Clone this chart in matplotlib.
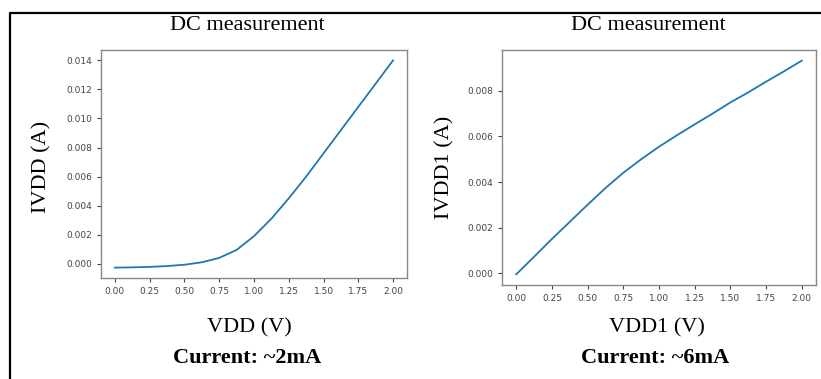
import numpy as np
import matplotlib.pyplot as plt
from matplotlib.lines import Line2D

# DC sweep, VDD (V) vs IVDD (A)
vdd = [0.0, 0.125, 0.25, 0.375, 0.5, 0.625, 0.75, 0.875, 1.0, 1.125, 1.25, 1.375, 1.5, 1.625, 1.75, 1.875, 2.0]
ivdd = [-0.00027, -0.00025, -0.00022, -0.00016, -0.00007, 0.0001, 0.0004, 0.00095, 0.0019, 0.0031, 0.0045,
        0.006, 0.0076, 0.0092, 0.0108, 0.0124, 0.014]

# DC sweep, VDD1 (V) vs IVDD1 (A)
vdd1 = [0.0, 0.125, 0.25, 0.375, 0.5, 0.625, 0.75, 0.875, 1.0, 1.125, 1.25, 1.375, 1.5, 1.625, 1.75, 1.875, 2.0]
ivdd1 = [-0.00004, 0.00073, 0.00151, 0.00226, 0.00301, 0.00374, 0.00441, 0.005, 0.00555, 0.00605, 0.00653,
         0.007, 0.00749, 0.00793, 0.0084, 0.00885, 0.00932]

xticks = [0.0, 0.25, 0.5, 0.75, 1.0, 1.25, 1.5, 1.75, 2.0]

W, H = 821, 379
fig = plt.figure(figsize=(W / 100, H / 100), dpi=100)
serif = 'Liberation Serif'

def px(x, y):
    # pixel (from top-left) -> figure fraction
    return x / W, 1 - y / H

def setup(ax, x, y, yticks):
    ax.plot(x, y, color='#1f77b4', lw=1.3)
    ax.set_xticks(xticks)
    ax.set_xticklabels(['%.2f' % v for v in xticks])
    ax.set_yticks(yticks)
    ax.set_yticklabels(['%.3f' % v for v in yticks])
    ax.tick_params(labelsize=6.5, colors='#444444', length=3, width=0.8)
    for s in ax.spines.values():
        s.set_color('#888888')
        s.set_linewidth(1.0)

# left panel
ax1 = fig.add_axes([101 / W, 1 - 278 / H, (407 - 101) / W, (278 - 50) / H])
setup(ax1, vdd, ivdd, [0, 0.002, 0.004, 0.006, 0.008, 0.010, 0.012, 0.014])

# right panel
ax2 = fig.add_axes([502 / W, 1 - 285 / H, (816 - 502) / W, (285 - 50) / H])
setup(ax2, vdd1, ivdd1, [0, 0.002, 0.004, 0.006, 0.008])

# texts
fig.text(*px(247, 25), 'DC measurement', family=serif, fontsize=16, ha='center', va='center')
fig.text(*px(648, 25), 'DC measurement', family=serif, fontsize=16, ha='center', va='center')
fig.text(*px(249, 328), 'VDD (V)', family=serif, fontsize=16, ha='center', va='center')
fig.text(*px(657, 328), 'VDD1 (V)', family=serif, fontsize=16, ha='center', va='center')
fig.text(*px(247, 358), 'Current: ~2mA', family=serif, fontsize=16, fontweight='bold', ha='center', va='center')
fig.text(*px(655, 358), 'Current: ~6mA', family=serif, fontsize=16, fontweight='bold', ha='center', va='center')
fig.text(*px(42, 167), 'IVDD (A)', family=serif, fontsize=16, rotation=90, ha='center', va='center')
fig.text(*px(445, 167), 'IVDD1 (A)', family=serif, fontsize=16, rotation=90, ha='center', va='center')

# black frame (left and top edges)
fig.add_artist(Line2D([9.5 / W, 9.5 / W, 1.0], [0.0, 1 - 12.5 / H, 1 - 12.5 / H],
                      transform=fig.transFigure, color='black', lw=1.6))

fig.savefig('out.png', dpi=100)
